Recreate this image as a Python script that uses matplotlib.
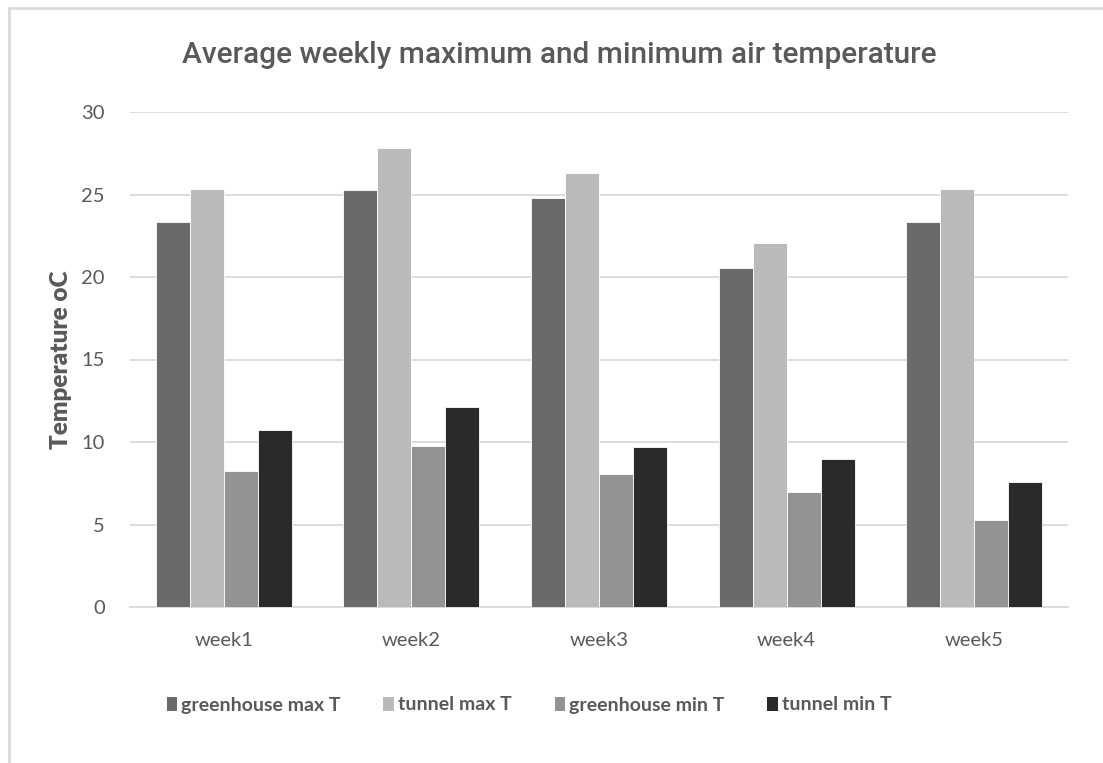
import numpy as np
import matplotlib
matplotlib.use("Agg")
import matplotlib.pyplot as plt
from matplotlib.patches import Patch, Rectangle

weeks = ["week1", "week2", "week3", "week4", "week5"]
series_names = ["greenhouse max T", "tunnel max T", "greenhouse min T", "tunnel min T"]
greenhouse_max = [23.35, 25.25, 24.8, 20.55, 23.35]
tunnel_max = [25.35, 27.8, 26.3, 22.05, 25.35]
greenhouse_min = [8.25, 9.75, 8.05, 7.0, 5.25]
tunnel_min = [10.7, 12.1, 9.7, 9.0, 7.55]
colors = ["#6a6a6a", "#bababa", "#939393", "#2a2a2a"]

txt = "#595959"
plt.rcParams["font.family"] = ["Lato", "DejaVu Sans"]

fig = plt.figure(figsize=(11.03, 7.63), dpi=100)
ax = fig.add_axes([130 / 1103, 1 - 607 / 763, 938 / 1103, 495 / 763])

# chart area border (only top and left are visible in the crop)
fig.patches.append(Rectangle((9 / 1103, -0.1), 1.2, 1 - 8 / 763 + 0.1,
                             transform=fig.transFigure, fill=False,
                             edgecolor="#d9d9d9", linewidth=2))

x = np.arange(len(weeks))
w = 0.181
data = [greenhouse_max, tunnel_max, greenhouse_min, tunnel_min]
for i, vals in enumerate(data):
    ax.bar(x + (i - 1.5) * w, vals, width=w, color=colors[i],
           edgecolor="white", linewidth=0.6, zorder=3, label=series_names[i])

ax.set_xlim(-0.5, len(weeks) - 0.5)
ax.set_ylim(0, 30)
ax.set_yticks(range(0, 31, 5))
ax.set_xticks(x)
ax.set_xticklabels(weeks)
ax.grid(axis="y", color="#d9d9d9", linewidth=1.3, zorder=0)
for s in ["top", "right", "left"]:
    ax.spines[s].set_visible(False)
ax.spines["bottom"].set_color("#d9d9d9")
ax.spines["bottom"].set_linewidth(1.3)
ax.tick_params(axis="both", length=0, labelsize=14.5, labelcolor=txt)
ax.tick_params(axis="x", pad=18)
ax.tick_params(axis="y", pad=18)

fig.text(61 / 1103, 1 - 360 / 763, "Temperature oC", rotation=90,
         ha="center", va="center", fontsize=17.5, fontweight="heavy", color=txt)

fig.text(559 / 1103, 1 - 55 / 763,
         "Average weekly maximum and minimum air temperature",
         ha="center", va="center", fontsize=21.5, color=txt,
         family=["Roboto", "Lato"], fontweight="medium")

handles = [Patch(facecolor=c, edgecolor="none") for c in colors]
leg = fig.legend(handles, series_names, loc="center", ncol=4,
                 bbox_to_anchor=(529 / 1103, 1 - 705 / 763), frameon=False,
                 handlelength=0.55, handleheight=0.7, handletextpad=0.2,
                 columnspacing=2.2, prop={"weight": "bold", "size": 14})
for t in leg.get_texts():
    t.set_color(txt)

fig.savefig("out.png", dpi=100, facecolor="white")
